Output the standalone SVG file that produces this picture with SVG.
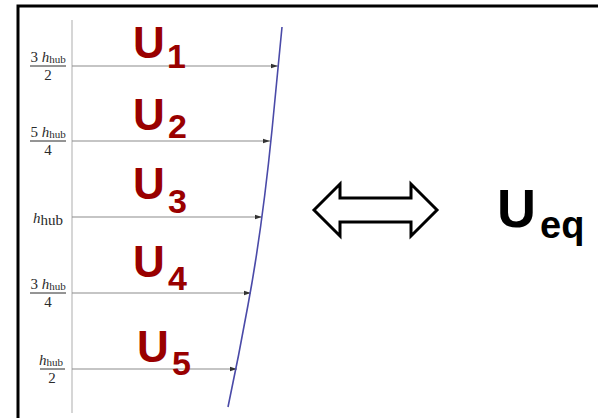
<svg xmlns="http://www.w3.org/2000/svg" width="598" height="418" viewBox="0 0 598 418">
<defs>
<style>
.frame{fill:none;stroke:#000;stroke-width:3}
.axis{stroke:#c8c8c8;stroke-width:1.5}
.lvl{stroke:#8c8c8c;stroke-width:1.2;marker-end:url(#ah)}
.prof{fill:none;stroke:#4a4aa8;stroke-width:1.6}
.U{font-family:"Liberation Sans",Arial,sans-serif;font-weight:bold;fill:#990000;font-size:44px}
.sub{font-size:34px}
.fr{font-family:"Liberation Serif","Times New Roman",serif;fill:#2a2a2a;font-size:15px}
.hs{font-size:11px}
.fl{stroke:#2a2a2a;stroke-width:1}
.ueq{font-family:"Liberation Sans",Arial,sans-serif;font-weight:bold;fill:#000;font-size:54px}
</style>
<marker id="ah" markerWidth="8" markerHeight="6" refX="7" refY="3" orient="auto" markerUnits="userSpaceOnUse">
<path d="M0,0.8 L7,3 L0,5.2 Z" fill="#333"/>
</marker>
</defs>
<path class="frame" d="M18,418 L18,6 L598,6"/>
<line class="axis" x1="72" y1="20" x2="72" y2="413"/>
<g id="connectors">
<line class="lvl" x1="72" y1="66" x2="278" y2="66"/>
<line class="lvl" x1="72" y1="141" x2="270" y2="141"/>
<line class="lvl" x1="72" y1="217" x2="262" y2="217"/>
<line class="lvl" x1="72" y1="293" x2="251" y2="293"/>
<line class="lvl" x1="72" y1="369" x2="237" y2="369"/>
</g>
<path id="profile" class="prof" d="M282,27 L272,130 Q262,230 248,305 Q239,355 228,407"/>
<g id="labels-left">
<g id="f1"><text class="fr" x="48" y="62" text-anchor="middle">3 <tspan font-style="italic">h</tspan><tspan class="hs" dy="1">hub</tspan></text><line class="fl" x1="30" y1="66" x2="66" y2="66"/><text class="fr" x="48" y="80" text-anchor="middle">2</text></g>
<g id="f2"><text class="fr" x="48" y="137" text-anchor="middle">5 <tspan font-style="italic">h</tspan><tspan class="hs" dy="1">hub</tspan></text><line class="fl" x1="30" y1="141" x2="66" y2="141"/><text class="fr" x="48" y="155" text-anchor="middle">4</text></g>
<g id="f3"><text class="fr" x="33" y="223" font-size="20"><tspan font-style="italic">h</tspan><tspan font-size="15" dy="2">hub</tspan></text></g>
<g id="f4"><text class="fr" x="48" y="289" text-anchor="middle">3 <tspan font-style="italic">h</tspan><tspan class="hs" dy="1">hub</tspan></text><line class="fl" x1="30" y1="293" x2="66" y2="293"/><text class="fr" x="48" y="307" text-anchor="middle">4</text></g>
<g id="f5"><text class="fr" x="51" y="365" text-anchor="middle"><tspan font-style="italic">h</tspan><tspan class="hs" dy="1">hub</tspan></text><line class="fl" x1="40" y1="369" x2="65" y2="369"/><text class="fr" x="52" y="383" text-anchor="middle">2</text></g>
</g>
<g id="U1"><text class="U" x="133" y="58">U<tspan class="sub" x="167" y="68">1</tspan></text></g>
<g id="U2"><text class="U" x="133" y="130">U<tspan class="sub" x="168" y="138">2</tspan></text></g>
<g id="U3"><text class="U" x="133" y="199">U<tspan class="sub" x="168" y="213">3</tspan></text></g>
<g id="U4"><text class="U" x="133" y="277">U<tspan class="sub" x="168" y="290">4</tspan></text></g>
<g id="U5"><text class="U" x="137" y="362">U<tspan class="sub" x="172" y="375">5</tspan></text></g>
<g id="dbl"><path d="M314,210 L340,184 L340,198 L411,198 L411,184 L437,210 L411,236 L411,222 L340,222 L340,236 Z" fill="#fff" stroke="#000" stroke-width="3" stroke-linejoin="miter"/></g>
<g id="Ueq"><text class="ueq" x="497" y="227">U<tspan font-size="38" x="540" y="238">eq</tspan></text></g>
</svg>
